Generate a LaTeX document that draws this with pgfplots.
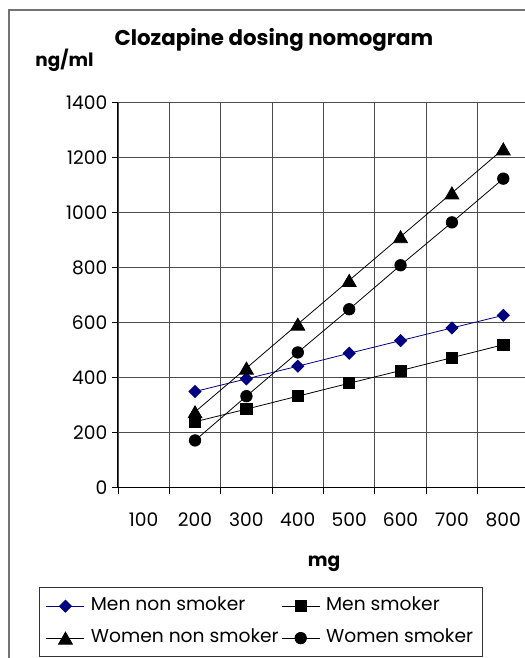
\documentclass[border=0pt]{standalone}
\usepackage{pgfplots}
\pgfplotsset{compat=1.18}
\usepackage{fontspec}
\setmainfont{Poppins}
\definecolor{navy}{RGB}{0,0,128}
\newcommand\tickfont{\fontsize{14}{16.8}\selectfont}
\begin{document}
\begin{tikzpicture}
\useasboundingbox (0,0) rectangle (393.75pt,-493.5pt);
\draw[black!55, line width=0.9pt] (6.75pt,-494pt) -- (6.75pt,-7.5pt) -- (394pt,-7.5pt);
\node[anchor=base, font=\bfseries\fontsize{16}{19}\selectfont] at (205.4pt,-33.75pt) {Clozapine dosing nomogram};
\node[anchor=base, font=\bfseries\fontsize{13.8}{16}\selectfont] at (48.4pt,-50pt) {ng/ml};
\node[anchor=base, font=\bfseries\tickfont] at (243pt,-424.5pt) {mg};
\begin{axis}[
  at={(88.5pt,-365.8pt)}, anchor=south west,
  width=308.25pt, height=288.75pt, scale only axis,
  xmin=0.5, xmax=8.5, ymin=0, ymax=1400,
  axis lines*=left,
  axis line style={black, line width=0.75pt},
  xtick={0.5,1.5,...,8.5}, xticklabels={},
  extra x ticks={1,2,3,4,5,6,7,8},
  extra x tick labels={100,200,300,400,500,600,700,800},
  extra x tick style={major tick length=0pt, grid=none, xticklabel style={yshift=-15.5pt}},
  ytick={0,200,...,1400},
  /pgf/number format/assume math mode=true,
  /pgf/number format/1000 sep={},
  grid=major, grid style={black!70, line width=0.6pt},
  tick align=outside, major tick length=4.5pt,
  tick style={black, line width=0.6pt},
  ticklabel style={font=\tickfont},
  legend columns=2,
  legend cell align=left,
  legend style={at={(-0.1922,-0.258)}, anchor=north west, draw=black!80, line width=0.6pt,
    font=\tickfont, column sep=0pt, row sep=7pt, inner xsep=5pt, inner ysep=5.5pt,
    nodes={inner sep=2pt, text height=10pt, text depth=3pt},
    /tikz/every odd column/.append style={column sep=2.5pt}},
  legend image code/.code={\draw[mark repeat=2,mark phase=2,#1] plot coordinates {(0pt,0pt)(14.25pt,0pt)(28.5pt,0pt)};},
]
\addplot[navy, line width=0.6pt, mark=square*, mark size=3.2pt, mark options={rotate=45, fill=navy}]
  coordinates {(2,350)(3,396)(4,442)(5,489)(6,535)(7,581)(8,627)};
\addlegendentry{Men non smoker}
\addplot[black, line width=0.6pt, mark=square*, mark size=4.2pt, mark options={fill=black}]
  coordinates {(2,240)(3,286)(4,333)(5,380)(6,426)(7,473)(8,520)};
\addlegendentry{Men smoker}
\addplot[black, line width=0.6pt, mark=triangle*, mark size=6pt, mark options={fill=black, yshift=-1.5pt}]
  coordinates {(2,276)(3,435)(4,595)(5,754)(6,913)(7,1072)(8,1232)};
\addlegendentry{Women non smoker}
\addplot[black, line width=0.6pt, mark=*, mark size=4.3pt, mark options={fill=black}]
  coordinates {(2,172)(3,333)(4,492)(5,649)(6,809)(7,965)(8,1124)};
\addlegendentry{Women smoker\hspace{20pt}}
\end{axis}
\end{tikzpicture}
\end{document}
